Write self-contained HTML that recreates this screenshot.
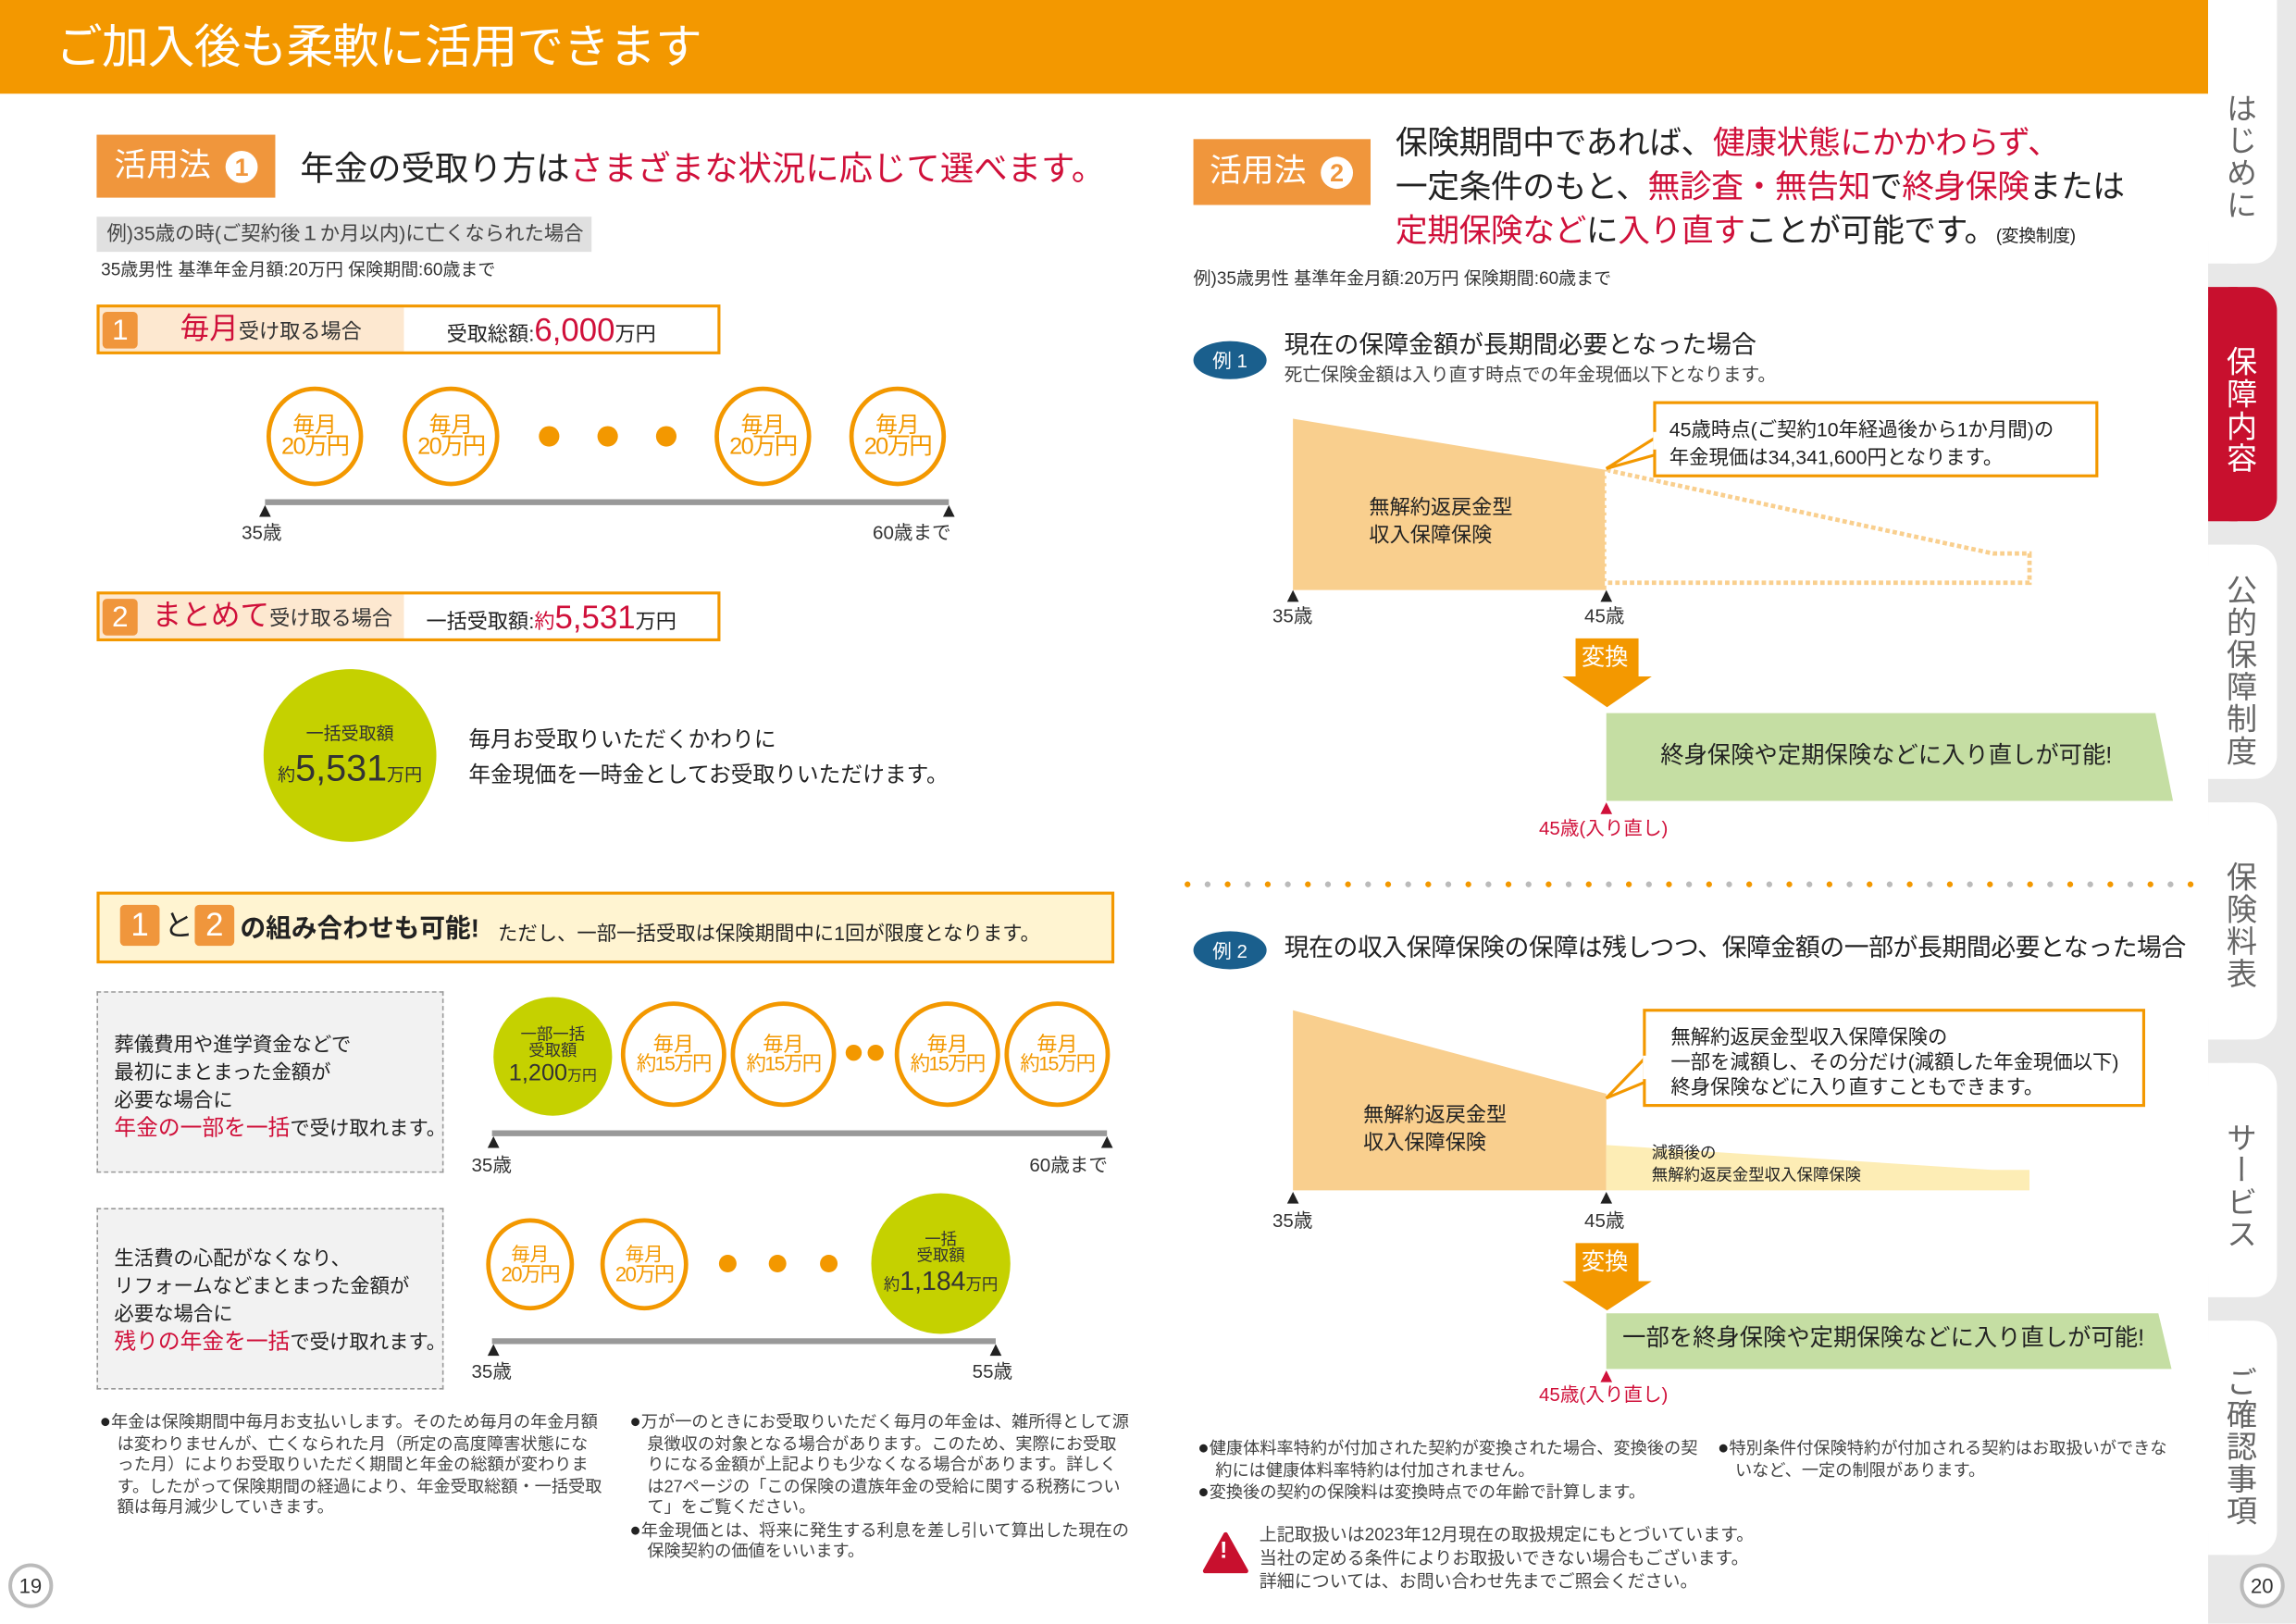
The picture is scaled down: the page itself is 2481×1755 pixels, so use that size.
<!DOCTYPE html>
<html><head><meta charset="utf-8">
<style>
html,body{margin:0;padding:0;background:#fff;}
body{width:2481px;height:1754px;overflow:hidden;position:relative;}
#w{position:absolute;left:0;top:0;width:1568px;height:1109px;transform:scale(1.58227);transform-origin:0 0;font-family:"Liberation Sans","Noto Sans CJK JP",sans-serif;color:#333;}
.t{position:absolute;white-space:nowrap;line-height:1;}
.r{color:#d0103a;}
.c{position:absolute;border-radius:50%;box-sizing:border-box;display:flex;flex-direction:column;align-items:center;justify-content:center;line-height:1;}
.oc{border:3px solid #f39800;background:#fff;color:#f39800;}
.gc{background:#c5d100;color:#333;}
.sq{position:absolute;background:#f0963c;color:#fff;text-align:center;border-radius:3px;line-height:1;}
.tab{position:absolute;left:1519px;writing-mode:vertical-rl;font-size:21px;color:#666;letter-spacing:1px;line-height:1;}
.fn{position:absolute;font-size:11.5px;line-height:14.5px;color:#444;}
.fn p{margin:0;padding-left:12px;text-indent:-12px;}
.fn b{font-weight:normal;font-size:13px;color:#222;}
</style></head><body><div id="w">
<svg width="1568" height="1109" style="position:absolute;left:0;top:0">
 <rect x="0" y="0" width="1508" height="64" fill="#f39800"/>
 <rect x="1508" y="0" width="60" height="1109" fill="#e8e8e8"/>
 <g fill="#fff">
 <rect x="1508" y="-20" width="47" height="200" rx="16"/><rect x="1508" y="-20" width="20" height="200"/>
 <rect x="1508" y="372" width="47" height="160" rx="16"/><rect x="1508" y="372" width="20" height="160"/>
 <rect x="1508" y="548" width="47" height="162" rx="16"/><rect x="1508" y="548" width="20" height="162"/>
 <rect x="1508" y="726" width="47" height="160" rx="16"/><rect x="1508" y="726" width="20" height="160"/>
 <rect x="1508" y="902" width="47" height="160" rx="16"/><rect x="1508" y="902" width="20" height="160"/>
 </g>
 <rect x="1508" y="196" width="47" height="160" rx="16" fill="#c8102e"/><rect x="1508" y="196" width="20" height="160" fill="#c8102e"/>
 <circle cx="1545" cy="1083" r="14" fill="#fff" stroke="#bbb" stroke-width="2.5"/>
 <circle cx="21" cy="1083" r="14" fill="#fff" stroke="#bbb" stroke-width="2.5"/>
 <line x1="181" y1="343" x2="648" y2="343" stroke="#999" stroke-width="4"/>
 <polygon points="181,345 177,353 185,353" fill="#222"/><polygon points="648,345 644,353 652,353" fill="#222"/>
 <line x1="336" y1="774" x2="756" y2="774" stroke="#999" stroke-width="4"/>
 <polygon points="337,776 333,784 341,784" fill="#222"/><polygon points="756,776 752,784 760,784" fill="#222"/>
 <line x1="336" y1="916" x2="680" y2="916" stroke="#999" stroke-width="4"/>
 <polygon points="337,918 333,926 341,926" fill="#222"/><polygon points="680,918 676,926 684,926" fill="#222"/>
 <g fill="#f39800"><circle cx="375" cy="298" r="7"/><circle cx="415" cy="298" r="7"/><circle cx="455" cy="298" r="7"/>
 <circle cx="583" cy="719" r="5.5"/><circle cx="598" cy="719" r="5.5"/>
 <circle cx="497" cy="863" r="6"/><circle cx="531" cy="863" r="6"/><circle cx="566" cy="863" r="6"/></g>
 <polygon points="883,286 1097,321 1097,403 883,403" fill="#f9cf8e"/>
 <polyline points="1097,321 1361,378 1386,378 1386,398 1097,398" fill="none" stroke="#f9cf8e" stroke-width="3" stroke-dasharray="3,2"/>
 <line x1="1097" y1="322" x2="1097" y2="402" stroke="#fff" stroke-width="2" stroke-dasharray="3,2"/>
 <path d="M1140,293 L1097,320 L1140,308" fill="#fff" stroke="#f39800" stroke-width="2"/>
 <rect x="1130" y="275" width="302" height="50" fill="#fff" stroke="#f39800" stroke-width="2"/>
 <rect x="1129" y="295" width="4" height="12" fill="#fff"/>
 <polygon points="883,403 879,411 887,411" fill="#222"/><polygon points="1097,403 1093,411 1101,411" fill="#222"/>
 <rect x="1076" y="436" width="43" height="27" fill="#f39800"/>
 <polygon points="1067,462 1128,462 1097.5,483" fill="#f39800"/>
 <polygon points="1097,487 1472,487 1484,547 1097,547" fill="#c5dea3"/>
 <polygon points="1097,548 1093,556 1101,556" fill="#d0103a"/>
 <line x1="811" y1="604" x2="1500" y2="604" stroke="#f39800" stroke-width="4" stroke-linecap="round" stroke-dasharray="0,27.4"/>
 <line x1="824.7" y1="604" x2="1500" y2="604" stroke="#bbb" stroke-width="4" stroke-linecap="round" stroke-dasharray="0,27.4"/>
 <polygon points="883,690 1097,747 1097,813 883,813" fill="#f9cf8e"/>
 <polygon points="1097,782 1360,799 1386,799 1386,813 1097,813" fill="#fdedb5"/>
 <path d="M1126,720 L1097,750 L1126,738" fill="#fff" stroke="#f39800" stroke-width="2"/>
 <rect x="1123" y="690" width="341" height="65" fill="#fff" stroke="#f39800" stroke-width="2"/>
 <rect x="1122" y="721" width="4" height="16" fill="#fff"/>
 <polygon points="883,814 879,822 887,822" fill="#222"/><polygon points="1097,814 1093,822 1101,822" fill="#222"/>
 <rect x="1076" y="849" width="43" height="27" fill="#f39800"/>
 <polygon points="1067,875 1128,875 1097.5,895" fill="#f39800"/>
 <polygon points="1097,897 1474,897 1483,935 1097,935" fill="#c5dea3"/>
 <polygon points="1097,936 1093,944 1101,944" fill="#d0103a"/>
 <polygon points="837,1048 823,1073 851,1073" fill="#c8102e" stroke="#c8102e" stroke-width="3" stroke-linejoin="round"/>
</svg>

<div class="t" style="left:38px;top:16px;font-size:32px;color:#fff;letter-spacing:-0.5px">ご加入後も柔軟に活用できます</div>

<div class="tab" style="top:63px">はじめに</div>
<div class="tab" style="top:236px;color:#fff">保障内容</div>
<div class="tab" style="top:392px">公的保障制度</div>
<div class="tab" style="top:588px">保険料表</div>
<div class="tab" style="top:766px">サービス</div>
<div class="tab" style="top:933px">ご確認事項</div>
<div class="t" style="left:1537px;top:1076px;font-size:14px;color:#333">20</div>
<div class="t" style="left:13px;top:1076px;font-size:14px;color:#333">19</div>

<div style="position:absolute;left:66px;top:92px;width:122px;height:43px;background:#f0963c"></div>
<div class="t" style="left:78px;top:102px;font-size:22px;color:#fff">活用法</div>
<div class="c" style="left:154px;top:103px;width:22px;height:22px;background:#fff;color:#f0963c;font-size:17px;font-weight:bold">1</div>
<div class="t" style="left:205px;top:104px;font-size:23px;color:#222">年金の受取り方は<span class="r">さまざまな状況に応じて選べます。</span></div>
<div style="position:absolute;left:66px;top:148px;width:338px;height:24px;background:#e0e0e0"></div>
<div class="t" style="left:73px;top:153px;font-size:13.5px;color:#444">例)35歳の時(ご契約後１か月以内)に亡くなられた場合</div>
<div class="t" style="left:69px;top:178px;font-size:12px;color:#333">35歳男性 基準年金月額:20万円 保険期間:60歳まで</div>

<div style="position:absolute;left:66px;top:208px;width:426px;height:34px;border:2px solid #f39800;box-sizing:border-box;background:linear-gradient(90deg,#fde8d0 0 208px,#fff 208px)"></div>
<div class="sq" style="left:70px;top:213px;width:24px;height:25px;font-size:20px;padding-top:3px;box-sizing:border-box">1</div>
<div class="t" style="left:123px;top:215px;font-size:14px;color:#333"><span class="r" style="font-size:20px">毎月</span>受け取る場合</div>
<div class="t" style="left:305px;top:215px;font-size:14px;color:#222">受取総額:<span class="r" style="font-size:22px">6,000</span>万円</div>

<div class="c oc" style="left:182px;top:264px;width:66px;height:68px"><div style="font-size:15px">毎月</div><div style="font-size:16px;letter-spacing:-1px">20万円</div></div>
<div class="c oc" style="left:275px;top:264px;width:66px;height:68px"><div style="font-size:15px">毎月</div><div style="font-size:16px;letter-spacing:-1px">20万円</div></div>
<div class="c oc" style="left:488px;top:264px;width:66px;height:68px"><div style="font-size:15px">毎月</div><div style="font-size:16px;letter-spacing:-1px">20万円</div></div>
<div class="c oc" style="left:580px;top:264px;width:66px;height:68px"><div style="font-size:15px">毎月</div><div style="font-size:16px;letter-spacing:-1px">20万円</div></div>
<div class="t" style="left:165px;top:357px;font-size:13px">35歳</div>
<div class="t" style="left:596px;top:357px;font-size:13px">60歳まで</div>

<div style="position:absolute;left:66px;top:404px;width:426px;height:34px;border:2px solid #f39800;box-sizing:border-box;background:linear-gradient(90deg,#fde8d0 0 208px,#fff 208px)"></div>
<div class="sq" style="left:70px;top:409px;width:24px;height:25px;font-size:20px;padding-top:3px;box-sizing:border-box">2</div>
<div class="t" style="left:104px;top:411px;font-size:14px;color:#333"><span class="r" style="font-size:20px">まとめて</span>受け取る場合</div>
<div class="t" style="left:291px;top:411px;font-size:14px;color:#222">一括受取額:<span class="r">約</span><span class="r" style="font-size:22px">5,531</span>万円</div>

<div class="c gc" style="left:180px;top:457px;width:118px;height:118px"><div style="font-size:12px;margin-bottom:6px">一括受取額</div><div style="font-size:12px">約<span style="font-size:25px">5,531</span>万円</div></div>
<div class="t" style="left:320px;top:498px;font-size:15px;color:#222">毎月お受取りいただくかわりに</div>
<div class="t" style="left:320px;top:522px;font-size:15px;color:#222">年金現価を一時金としてお受取りいただけます。</div>

<div style="position:absolute;left:66px;top:609px;width:695px;height:49px;background:#fff4d1;border:2px solid #f39800;box-sizing:border-box"></div>
<div class="sq" style="left:82px;top:618px;width:27px;height:28px;font-size:22px;padding-top:3px;box-sizing:border-box">1</div>
<div class="t" style="left:112px;top:623px;font-size:20px;color:#222">と</div>
<div class="sq" style="left:133px;top:618px;width:27px;height:28px;font-size:22px;padding-top:3px;box-sizing:border-box">2</div>
<div class="t" style="left:164px;top:626px;font-size:17.5px;color:#222;font-weight:bold">の組み合わせも可能!</div>
<div class="t" style="left:340px;top:631px;font-size:13.5px;color:#222">ただし、一部一括受取は保険期間中に1回が限度となります。</div>

<div style="position:absolute;left:66px;top:677px;width:237px;height:124px;background:#f2f2f2;border:1.5px dashed #999;box-sizing:border-box"></div>
<div class="t" style="left:78px;top:704px;font-size:13.5px;line-height:19px;color:#222">葬儀費用や進学資金などで<br>最初にまとまった金額が<br>必要な場合に<br><span class="r" style="font-size:15px">年金の一部を一括</span>で受け取れます。</div>
<div class="c gc" style="left:337px;top:681px;width:81px;height:81px"><div style="font-size:11px">一部一括</div><div style="font-size:11px">受取額</div><div style="font-size:16px;margin-top:2px">1,200<span style="font-size:10px">万円</span></div></div>
<div class="c oc" style="left:424px;top:684px;width:72px;height:72px"><div style="font-size:14px">毎月</div><div style="font-size:13.5px;letter-spacing:-1px">約15万円</div></div>
<div class="c oc" style="left:499px;top:684px;width:72px;height:72px"><div style="font-size:14px">毎月</div><div style="font-size:13.5px;letter-spacing:-1px">約15万円</div></div>
<div class="c oc" style="left:611px;top:684px;width:72px;height:72px"><div style="font-size:14px">毎月</div><div style="font-size:13.5px;letter-spacing:-1px">約15万円</div></div>
<div class="c oc" style="left:686px;top:684px;width:72px;height:72px"><div style="font-size:14px">毎月</div><div style="font-size:13.5px;letter-spacing:-1px">約15万円</div></div>
<div class="t" style="left:322px;top:789px;font-size:13px">35歳</div>
<div class="t" style="left:703px;top:789px;font-size:13px">60歳まで</div>

<div style="position:absolute;left:66px;top:825px;width:237px;height:124px;background:#f2f2f2;border:1.5px dashed #999;box-sizing:border-box"></div>
<div class="t" style="left:78px;top:850px;font-size:13.5px;line-height:19px;color:#222">生活費の心配がなくなり、<br>リフォームなどまとまった金額が<br>必要な場合に<br><span class="r" style="font-size:15px">残りの年金を一括</span>で受け取れます。</div>
<div class="c oc" style="left:332px;top:832px;width:60px;height:63px"><div style="font-size:13px">毎月</div><div style="font-size:14px;letter-spacing:-1px">20万円</div></div>
<div class="c oc" style="left:410px;top:832px;width:60px;height:63px"><div style="font-size:13px">毎月</div><div style="font-size:14px;letter-spacing:-1px">20万円</div></div>
<div class="c gc" style="left:595px;top:815px;width:95px;height:96px"><div style="font-size:11px">一括</div><div style="font-size:11px">受取額</div><div style="font-size:11px;margin-top:2px">約<span style="font-size:18px">1,184</span>万円</div></div>
<div class="t" style="left:322px;top:930px;font-size:13px">35歳</div>
<div class="t" style="left:664px;top:930px;font-size:13px">55歳</div>

<div class="fn" style="left:68px;top:964px;width:344px"><p><b>●</b>年金は保険期間中毎月お支払いします。そのため毎月の年金月額は変わりませんが、亡くなられた月（所定の高度障害状態になった月）によりお受取りいただく期間と年金の総額が変わります。したがって保険期間の経過により、年金受取総額・一括受取額は毎月減少していきます。</p></div>
<div class="fn" style="left:430px;top:964px;width:342px"><p><b>●</b>万が一のときにお受取りいただく毎月の年金は、雑所得として源泉徴収の対象となる場合があります。このため、実際にお受取りになる金額が上記よりも少なくなる場合があります。詳しくは27ページの「この保険の遺族年金の受給に関する税務について」をご覧ください。</p><p><b>●</b>年金現価とは、将来に発生する利息を差し引いて算出した現在の保険契約の価値をいいます。</p></div>

<div style="position:absolute;left:815px;top:95px;width:121px;height:45px;background:#f0963c"></div>
<div class="t" style="left:826px;top:106px;font-size:22px;color:#fff">活用法</div>
<div class="c" style="left:902px;top:107px;width:22px;height:22px;background:#fff;color:#f0963c;font-size:17px;font-weight:bold">2</div>
<div class="t" style="left:953px;top:87px;font-size:22px;color:#222;letter-spacing:-0.3px">保険期間中であれば、<span class="r">健康状態にかかわらず、</span></div>
<div class="t" style="left:953px;top:117px;font-size:22px;color:#222;letter-spacing:-0.3px">一定条件のもと、<span class="r">無診査・無告知</span>で<span class="r">終身保険</span>または</div>
<div class="t" style="left:953px;top:147px;font-size:22px;color:#222;letter-spacing:-0.3px"><span class="r">定期保険など</span>に<span class="r">入り直す</span>ことが可能です。<span style="font-size:12px">(変換制度)</span></div>
<div class="t" style="left:815px;top:184px;font-size:12px;color:#333">例)35歳男性 基準年金月額:20万円 保険期間:60歳まで</div>

<div class="c" style="left:815px;top:233px;width:50px;height:26px;background:#1a5f8d;color:#fff;font-size:13px">例 1</div>
<div class="t" style="left:877px;top:227px;font-size:17px;color:#222">現在の保障金額が長期間必要となった場合</div>
<div class="t" style="left:877px;top:250px;font-size:12.5px;color:#444">死亡保険金額は入り直す時点での年金現価以下となります。</div>
<div class="t" style="left:935px;top:337px;font-size:14px;line-height:19px;color:#222">無解約返戻金型<br>収入保障保険</div>
<div class="t" style="left:1140px;top:284px;font-size:13.5px;line-height:19px;color:#222">45歳時点(ご契約10年経過後から1か月間)の<br>年金現価は34,341,600円となります。</div>
<div class="t" style="left:869px;top:414px;font-size:13px">35歳</div>
<div class="t" style="left:1082px;top:414px;font-size:13px">45歳</div>
<div class="t" style="left:1080px;top:442px;font-size:16px;color:#fff">変換</div>
<div class="t" style="left:1134px;top:509px;font-size:16px;color:#222">終身保険や定期保険などに入り直しが可能!</div>
<div class="t" style="left:1051px;top:559px;font-size:13px;color:#d0103a">45歳(入り直し)</div>

<div class="c" style="left:815px;top:636px;width:50px;height:26px;background:#1a5f8d;color:#fff;font-size:13px">例 2</div>
<div class="t" style="left:877px;top:639px;font-size:17px;color:#222;letter-spacing:-0.3px">現在の収入保障保険の保障は残しつつ、保障金額の一部が長期間必要となった場合</div>
<div class="t" style="left:931px;top:752px;font-size:14px;line-height:19px;color:#222">無解約返戻金型<br>収入保障保険</div>
<div class="t" style="left:1141px;top:700px;font-size:13.5px;line-height:17px;color:#222">無解約返戻金型収入保障保険の<br>一部を減額し、その分だけ(減額した年金現価以下)<br>終身保険などに入り直すこともできます。</div>
<div class="t" style="left:1128px;top:781px;font-size:11px;line-height:15px;color:#222">減額後の<br>無解約返戻金型収入保障保険</div>
<div class="t" style="left:869px;top:827px;font-size:13px">35歳</div>
<div class="t" style="left:1082px;top:827px;font-size:13px">45歳</div>
<div class="t" style="left:1080px;top:855px;font-size:16px;color:#fff">変換</div>
<div class="t" style="left:1108px;top:907px;font-size:16px;color:#222">一部を終身保険や定期保険などに入り直しが可能!</div>
<div class="t" style="left:1051px;top:946px;font-size:13px;color:#d0103a">45歳(入り直し)</div>

<div class="fn" style="left:818px;top:982px;width:345px"><p><b>●</b>健康体料率特約が付加された契約が変換された場合、変換後の契約には健康体料率特約は付加されません。</p><p><b>●</b>変換後の契約の保険料は変換時点での年齢で計算します。</p></div>
<div class="fn" style="left:1173px;top:982px;width:318px"><p><b>●</b>特別条件付保険特約が付加される契約はお取扱いができないなど、一定の制限があります。</p></div>
<div class="t" style="left:833px;top:1052px;font-size:16px;color:#fff;font-weight:bold">!</div>
<div class="t" style="left:860px;top:1040px;font-size:12px;line-height:16px;color:#444">上記取扱いは2023年12月現在の取扱規定にもとづいています。<br>当社の定める条件によりお取扱いできない場合もございます。<br>詳細については、お問い合わせ先までご照会ください。</div>
</div></body></html>
